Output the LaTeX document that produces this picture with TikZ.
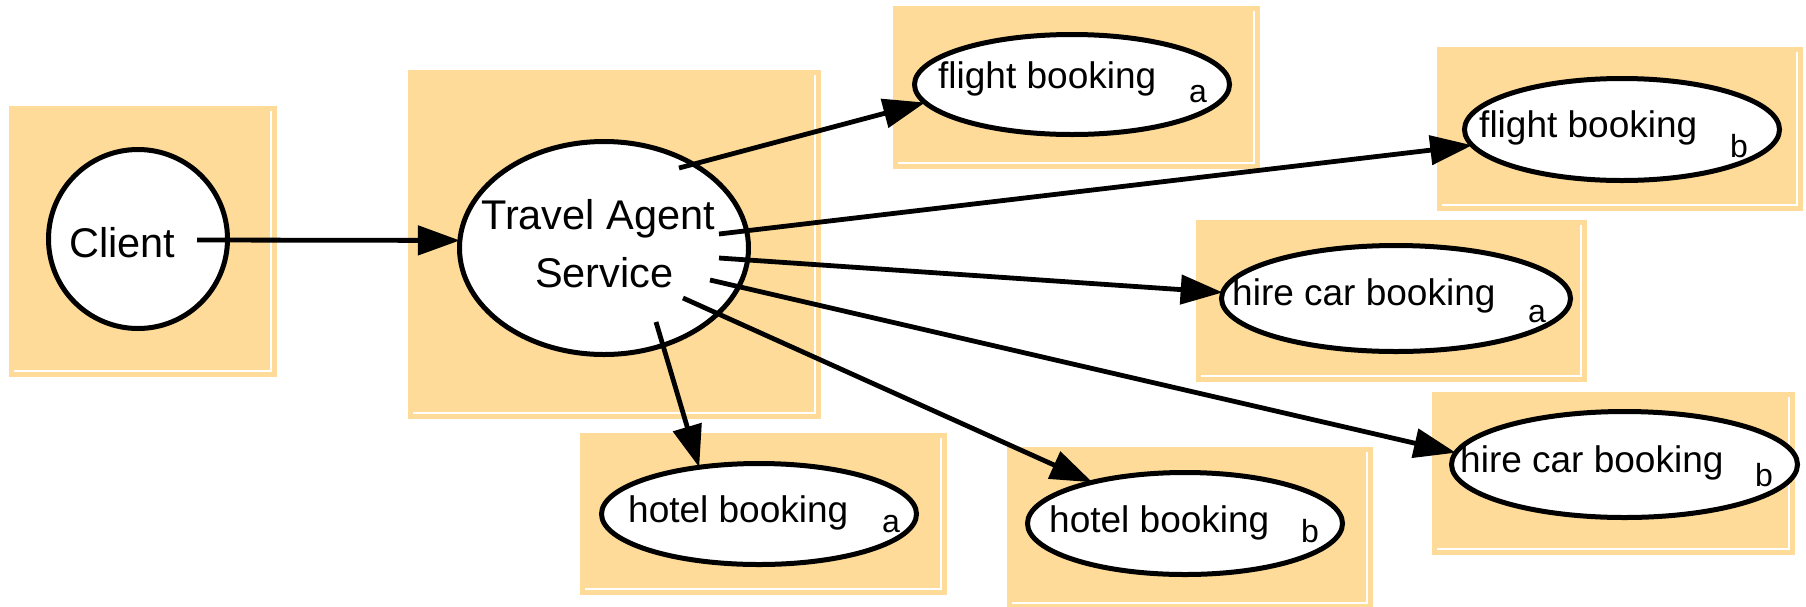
\documentclass[tikz,border=0pt]{standalone}
\usepackage{fontspec}
\setmainfont{Liberation Sans}
\usetikzlibrary{arrows.meta,shapes.geometric,calc}
\definecolor{boxfill}{RGB}{254,219,152}
\newcommand\bgpanel[4]{%
  \fill[boxfill] (#1,#2) rectangle (#3,#4);
  \draw[boxline] (#3-6,#2+5) -- (#3-6,#4-6) -- (#1+5,#4-6);
}
\begin{document}
\begin{tikzpicture}[x=1pt,y=-1pt,
  boxline/.style={draw=white,line width=1.6pt},
  bubble/.style={ellipse,draw=black,line width=5pt,fill=white,inner sep=0pt,outer sep=0pt},
  roundbubble/.style={circle,draw=black,line width=5pt,fill=white,inner sep=0pt,outer sep=0pt},
  conn/.style={line width=4.8pt,-{Triangle[length=42pt,width=29pt]}},
  bigtext/.style={inner sep=0pt,anchor=base west,font=\fontsize{41.5}{49}\selectfont},
  midtext/.style={inner sep=0pt,anchor=base west,font=\fontsize{37}{44}\selectfont},
  subtext/.style={inner sep=0pt,anchor=base west,font=\fontsize{32}{38}\selectfont},
]
\useasboundingbox (0,0) rectangle (1806,606);

% background panels
\bgpanel{9}{106}{277}{377}
\bgpanel{408}{70}{821}{419}
\bgpanel{893}{6}{1260}{169}
\bgpanel{1437}{47}{1803}{211}
\bgpanel{1196}{220}{1587}{382}
\bgpanel{1432}{392}{1795}{555}
\bgpanel{580}{433}{947}{595}
\bgpanel{1007}{447}{1373}{609}

% nodes
\node[roundbubble,minimum size=179pt] (client) at (138,239) {};
\node[bubble,minimum width=289pt,minimum height=213pt] (tas) at (604,248) {};
\node[bubble,minimum width=315pt,minimum height=100pt] (fa) at (1072,84.5) {};
\node[bubble,minimum width=315pt,minimum height=102pt] (fb) at (1622,129.5) {};
\node[bubble,minimum width=349pt,minimum height=106pt] (hca) at (1396,298.5) {};
\node[bubble,minimum width=346pt,minimum height=106pt] (hcb) at (1624.5,464.5) {};
\node[bubble,minimum width=315pt,minimum height=101pt] (hota) at (759,514) {};
\node[bubble,minimum width=315pt,minimum height=102pt] (hotb) at (1185,523.5) {};

% texts
\node[bigtext] (clientt) at (69,257) {Client};
\node[bigtext] (tast1) at (481,229) {Travel Agent};
\node[bigtext] (tast2) at (535,287) {Service};
\node[midtext] (fat) at (938,88) {flight booking};
\node[subtext] (fas) at (1189,102) {a};
\node[midtext] (fbt) at (1479,137) {flight booking};
\node[subtext] (fbs) at (1730,157) {b};
\node[midtext] (hcat) at (1232,305) {hire car booking};
\node[subtext] (hcas) at (1528,322) {a};
\node[midtext] (hcbt) at (1460,472) {hire car booking};
\node[subtext] (hcbs) at (1755,486) {b};
\node[midtext] (hotat) at (628,522) {hotel booking};
\node[subtext] (hotas) at (882,532) {a};
\node[midtext] (hotbt) at (1049,532) {hotel booking};
\node[subtext] (hotbs) at (1301,542) {b};

% connectors
\draw[conn] ([shift={(59,1)}]client.center) -- (tas.177);
\draw[conn] ([shift={(75,-80)}]tas.center) -- (fa.187.4);
\draw[conn] ([shift={(115,-14)}]tas.center) -- (fb.186.5);
\draw[conn] ([shift={(115,10)}]tas.center) -- (hca.178.7);
\draw[conn] ([shift={(106,32)}]tas.center) -- (hcb.176.7);
\draw[conn] ([shift={(79,50)}]tas.center) -- (hotb.156.3);
\draw[conn] ([shift={(52,74)}]tas.center) -- (hota.142.7);
\end{tikzpicture}
\end{document}
